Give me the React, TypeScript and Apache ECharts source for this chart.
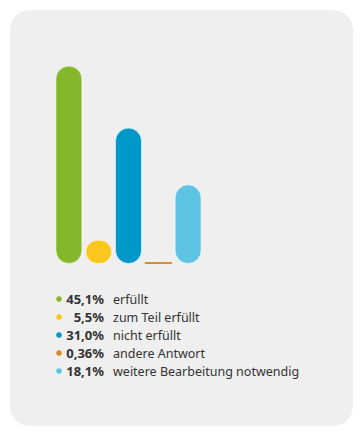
import React, { useEffect, useRef } from "react";
import * as echarts from "echarts";

const categories = ["erfüllt", "zum Teil erfüllt", "nicht erfüllt", "andere Antwort", "weitere Bearbeitung notwendig"];
const values = [45.1, 5.5, 31.0, 0.36, 18.1];
const valueLabels = ["45,1%", "5,5%", "31,0%", "0,36%", "18,1%"];
const colors = ["#84b72b", "#f9c71e", "#0098c9", "#d98d23", "#5fc3e4"];

export default function App() {
  const ref = useRef<HTMLDivElement>(null);
  useEffect(() => {
    if (!ref.current) return;
    const chart = echarts.init(ref.current, undefined, { renderer: "svg" });
    const font = "'Noto Sans', sans-serif";
    const legend: any[] = [];
    categories.forEach((name, i) => {
      const cy = 299 + i * 18;
      legend.push({
        type: "circle",
        shape: { cx: 59, cy, r: 2.8 },
        style: { fill: colors[i] },
      });
      legend.push({
        type: "text",
        x: 104,
        y: cy,
        style: {
          text: valueLabels[i],
          fill: "#333333",
          font: `bold 13px ${font}`,
          align: "right",
          verticalAlign: "middle",
        },
      });
      legend.push({
        type: "text",
        x: 113,
        y: cy,
        style: {
          text: name,
          fill: "#333333",
          font: `12.5px ${font}`,
          align: "left",
          verticalAlign: "middle",
        },
      });
    });
    chart.setOption({
      animation: false,
      graphic: [
        {
          type: "rect",
          z: -10,
          shape: { x: 10, y: 10, width: 343, height: 416, r: 20 },
          style: { fill: "#efefef" },
        },
        ...legend,
      ],
      grid: { left: 54, top: 44, width: 149, height: 220 },
      xAxis: {
        type: "category",
        data: categories,
        show: false,
      },
      yAxis: { type: "value", min: 0, max: 50, show: false },
      series: [
        {
          type: "bar",
          barWidth: 27,
          barMinHeight: 2,
          data: values.map((v, i) => ({
            value: v,
            itemStyle: {
              color: colors[i],
              borderRadius: i === 3 ? 0 : 13.5,
              borderColor: "rgba(255,255,255,0.6)",
              borderWidth: i === 3 ? 0 : 1,
            },
          })),
        },
      ],
    });
    return () => chart.dispose();
  }, []);
  return (
    <div
      ref={ref}
      style={{ position: "absolute", left: 0, top: 0, width: 362, height: 444, background: "#ffffff" }}
    />
  );
}
